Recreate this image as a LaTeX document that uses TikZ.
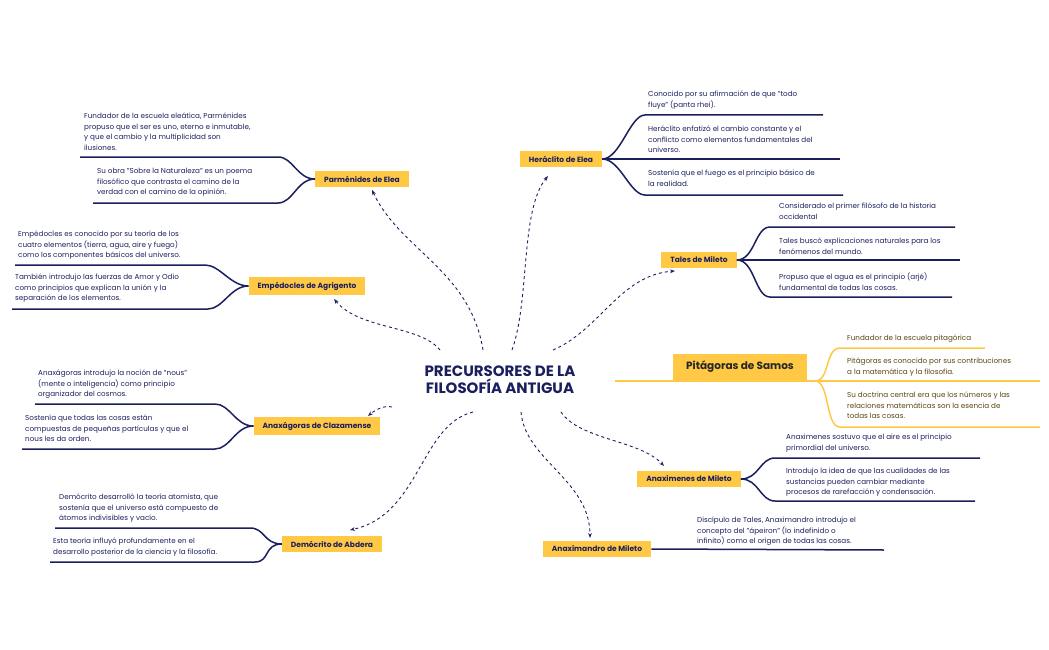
\documentclass[tikz,border=0pt]{standalone}
\usepackage{fontspec}
\setmainfont{Poppins}
\usetikzlibrary{arrows.meta}
\definecolor{navy}{HTML}{1B1F5E}
\definecolor{yel}{HTML}{FFC845}
\definecolor{brn}{HTML}{5A4510}
\tikzset{
 topic/.style={fill=yel,text=navy,font=\fontsize{7.5}{9}\selectfont\bfseries,inner xsep=9pt,inner ysep=5pt},
 txt/.style={anchor=north west,text=navy,font=\fontsize{7.2}{10.5}\selectfont,align=left,inner sep=0pt},
 ptxt/.style={txt,text=brn},
 br/.style={navy,line width=1.5pt},
 ybr/.style={yel,line width=1.5pt},
 dsh/.style={navy,dashed,line width=0.9pt,-{Stealth[length=5pt]}},
}
\begin{document}
\begin{tikzpicture}[x=1pt,y=-1pt]
\useasboundingbox (0,0) rectangle (1049,650);
\node[text=navy,font=\fontsize{15}{17}\selectfont\bfseries,align=center] (c) at (500,380) {PRECURSORES DE LA\\FILOSOFÍA ANTIGUA};
% topics
\node[topic] (par) at (362,179) {Parménides de Elea};
\node[topic] (emp) at (307,286) {Empédocles de Agrigento};
\node[topic] (anx) at (317,426) {Anaxágoras de Clazamense};
\node[topic] (dem) at (332,544) {Demócrito de Abdera};
\node[topic] (her) at (561,159) {Heráclito de Elea};
\node[topic] (tal) at (699,260) {Tales de Mileto};
\node[topic,font=\fontsize{10.5}{12}\selectfont\bfseries,text=black!85,inner xsep=13pt,inner ysep=7pt] (pit) at (740,367) {Pitágoras de Samos};
\node[topic] (amn) at (689,479) {Anaximenes de Mileto};
\node[topic] (amd) at (597,549) {Anaximandro de Mileto};
% left branches
\draw[br] (par.west) .. controls +(-18,0) and (293,157) .. (278,157) -- (80,157);
\draw[br] (par.west) .. controls +(-18,0) and (293,203) .. (278,203) -- (93,203);
\draw[br] (emp.west) .. controls +(-18,0) and (220,265) .. (205,265) -- (15,265);
\draw[br] (emp.west) .. controls +(-18,0) and (223,309) .. (208,309) -- (12,309);
\draw[br] (anx.west) .. controls +(-18,0) and (230,404) .. (215,404) -- (35,404);
\draw[br] (anx.west) .. controls +(-18,0) and (230,449) .. (215,449) -- (22,449);
\draw[br] (dem.west) .. controls +(-18,0) and (265,528) .. (250,528) -- (55,528);
\draw[br] (dem.west) .. controls +(-18,0) and (270,562) .. (255,562) -- (50,562);
% right branches
\draw[br] (her.east) .. controls +(18,0) and (630,115) .. (645,115) -- (823,115);
\draw[br] (her.east) -- (840,159);
\draw[br] (her.east) .. controls +(18,0) and (630,195) .. (645,195) -- (843,195);
\draw[br] (tal.east) .. controls +(18,0) and (755,227) .. (770,227) -- (955,227);
\draw[br] (tal.east) -- (960,260);
\draw[br] (tal.east) .. controls +(18,0) and (755,297) .. (770,297) -- (952,297);
\draw[ybr] (615,381) -- (815,381);
\draw[ybr] (815,381) .. controls (830,381) and (825,348) .. (840,348) -- (985,348);
\draw[ybr] (815,381) -- (1040,381);
\draw[ybr] (815,381) .. controls (830,381) and (825,427) .. (840,427) -- (1040,427);
\draw[br] (amn.east) .. controls +(18,0) and (760,458) .. (775,458) -- (980,458);
\draw[br] (amn.east) .. controls +(18,0) and (760,501) .. (775,501) -- (975,501);
\draw[br] (amd.east) -- (884,550);
% texts
\node[txt] (t1) at (84,113) {Fundador de la escuela eleática, Parménides\\propuso que el ser es uno, eterno e inmutable,\\y que el cambio y la multiplicidad son\\ilusiones.};
\node[txt] (t2) at (97,168) {Su obra "Sobre la Naturaleza" es un poema\\filosófico que contrasta el camino de la\\verdad con el camino de la opinión.};
\node[txt] (t3) at (18,231) {Empédocles es conocido por su teoría de los\\cuatro elementos (tierra, agua, aire y fuego)\\como los componentes básicos del universo.};
\node[txt] (t4) at (15,274) {También introdujo las fuerzas de Amor y Odio\\como principios que explican la unión y la\\separación de los elementos.};
\node[txt] (t5) at (38,370) {Anaxágoras introdujo la noción de "nous"\\(mente o inteligencia) como principio\\organizador del cosmos.};
\node[txt] (t6) at (25,415) {Sostenía que todas las cosas están\\compuestas de pequeñas partículas y que el\\nous les da orden.};
\node[txt] (t7) at (59,494) {Demócrito desarrolló la teoría atomista, que\\sostenía que el universo está compuesto de\\átomos indivisibles y vacío.};
\node[txt] (t8) at (53,538) {Esta teoría influyó profundamente en el\\desarrollo posterior de la ciencia y la filosofía.};
\node[txt] (t9) at (648,91) {Conocido por su afirmación de que "todo\\fluye" (panta rhei).};
\node[txt] (t10) at (648,126) {Heráclito enfatizó el cambio constante y el\\conflicto como elementos fundamentales del\\universo.};
\node[txt] (t11) at (648,170) {Sostenía que el fuego es el principio básico de\\la realidad.};
\node[txt] (t12) at (779,203) {Considerado el primer filósofo de la historia\\occidental};
\node[txt] (t13) at (779,238) {Tales buscó explicaciones naturales para los\\fenómenos del mundo.};
\node[txt] (t14) at (779,273) {Propuso que el agua es el principio (arjé)\\fundamental de todas las cosas.};
\node[ptxt] (t15) at (847,335) {Fundador de la escuela pitagórica};
\node[ptxt] (t16) at (847,358) {Pitágoras es conocido por sus contribuciones\\a la matemática y la filosofía.};
\node[ptxt] (t17) at (847,392) {Su doctrina central era que los números y las\\relaciones matemáticas son la esencia de\\todas las cosas.};
\node[txt] (t18) at (786,434) { Anaximenes sostuvo que el aire es el principio\\primordial del universo.};
\node[txt] (t19) at (786,468) {Introdujo la idea de que las cualidades de las\\sustancias pueden cambiar mediante\\procesos de rarefacción y condensación.};
\node[txt] (t20) at (697,517) {Discípulo de Tales, Anaximandro introdujo el\\concepto del "ápeiron" (lo indefinido o\\infinito) como el origen de todas las cosas.};
% dashed connectors
\coordinate (s1) at (440,350); \coordinate (s2) at (483,350); \coordinate (s3) at (512,350);
\coordinate (s4) at (553,350); \coordinate (s5) at (392,407); \coordinate (s6) at (473,412);
\coordinate (s7) at (521,412); \coordinate (s8) at (561,412);
\draw[dsh] (s1) .. controls (420,325) and (360,330) .. (334,299);
\draw[dsh] (s2) .. controls (470,270) and (400,250) .. (372,190);
\draw[dsh] (s3) .. controls (530,300) and (520,210) .. (548,176);
\draw[dsh] (s4) .. controls (600,330) and (620,275) .. (675,271);
\draw[dsh] (s5) .. controls (384,405) and (375,410) .. (368,416);
\draw[dsh] (s6) .. controls (420,425) and (420,515) .. (350,530);
\draw[dsh] (s7) .. controls (525,460) and (590,480) .. (590,538);
\draw[dsh] (s8) .. controls (580,440) and (640,440) .. (664,466);
\end{tikzpicture}
\end{document}
